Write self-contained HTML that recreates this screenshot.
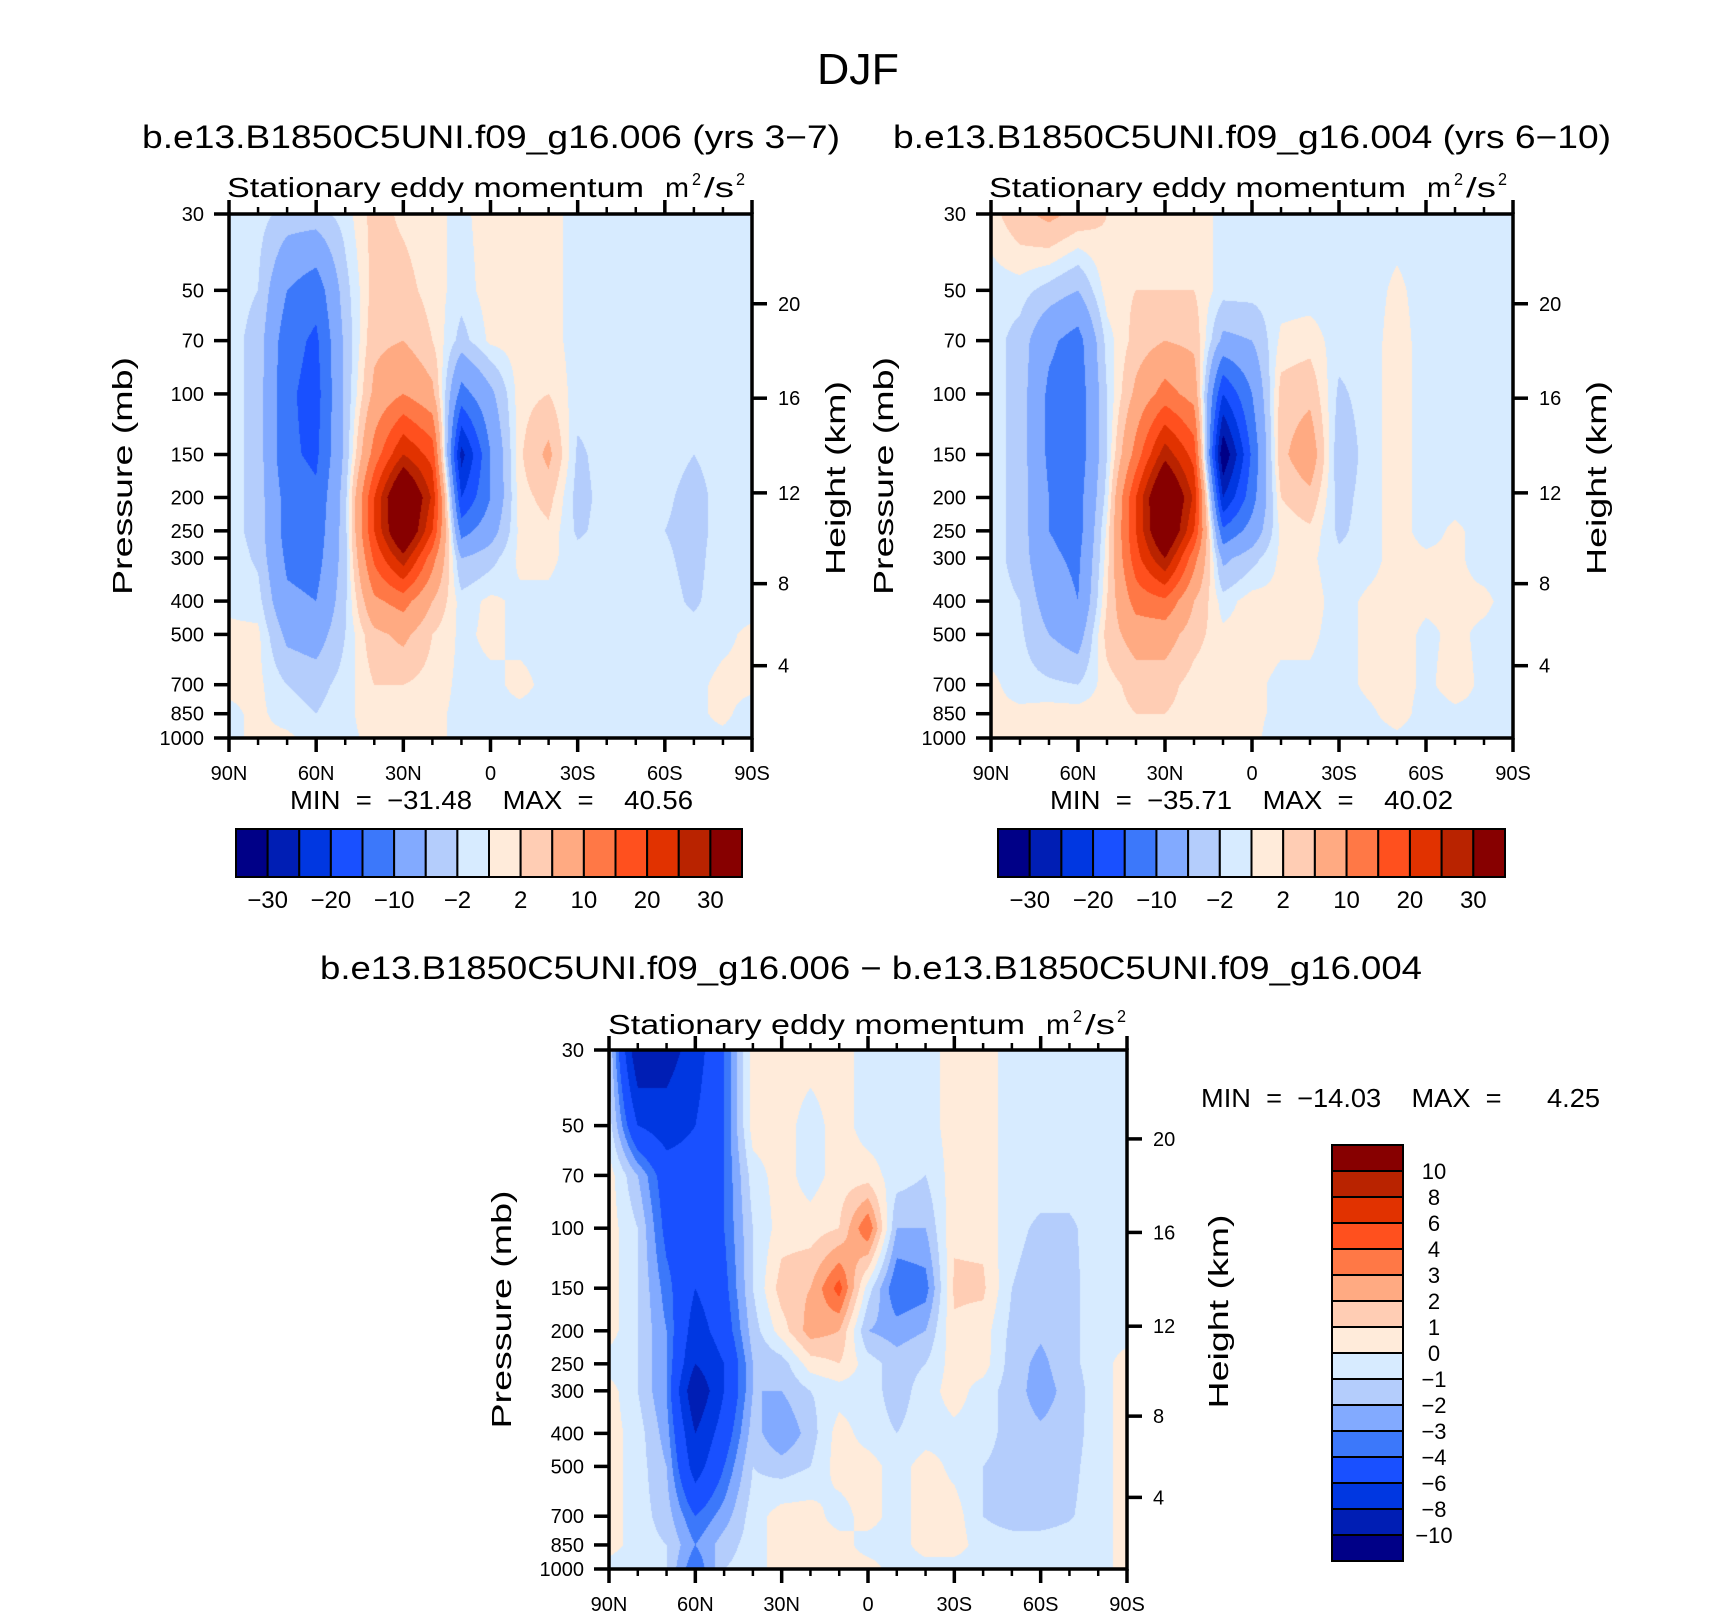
<!DOCTYPE html>
<html><head><meta charset="utf-8">
<style>
html,body{margin:0;padding:0;background:#fff;}
#wrap{position:relative;width:1710px;height:1617px;overflow:hidden;background:#fff;}
canvas{position:absolute;}
svg{position:absolute;left:0;top:0;}
text{font-family:"Liberation Sans",sans-serif;fill:#000;white-space:pre;}
</style></head>
<body>
<div id="wrap">
<canvas id="c1"></canvas>
<canvas id="c2"></canvas>
<canvas id="c3"></canvas>
<svg id="svg" width="1710" height="1617"></svg>
</div>
<script>
// ---- data ----
const lats = [90,80,70,60,50,40,30,20,10,0,-10,-20,-30,-40,-50,-60,-70,-80,-90];
const plevs = [30,50,70,100,150,200,250,300,400,500,700,850,1000];
const levelsFull = [-30,-25,-20,-15,-10,-5,-2,0,2,5,10,15,20,25,30];
const levelsDiff = [-10,-8,-6,-4,-3,-2,-1,0,1,2,3,4,6,8,10];
const labelsFull = ["−30","−20","−10","−2","2","10","20","30"];
const labelsDiff = ["10","8","6","4","3","2","1","0","−1","−2","−3","−4","−6","−8","−10"];
const pTicks = [30,50,70,100,150,200,250,300,400,500,700,850,1000];
const kmTicks = [4,8,12,16,20];
const kmPressure = [616.4,356.0,193.9,102.9,54.7];
const latTicks = [90,60,30,0,-30,-60,-90];
const latTickLabels = ["90N","60N","30N","0","30S","60S","90S"];
const palette = ["#000087","#001eb4","#0037e1","#1950ff","#3c78fa","#82aaff","#b4cdfc","#d7ebff","#ffebda","#ffcdb4","#ffaa82","#ff7846","#ff501e","#e13200","#b92300","#870000"];
// each inner array: one latitude column, values at plevs (30..1000 hPa)
const field006 = [
[-1,-1,-1,-1,-1,-1,-1,-0.5,-0.5,0.5,0.5,-0.5,-0.5],
[-1,-2,-3,-3,-3,-3,-3,-2.5,-1,0.5,0.5,0.5,0.5],
[-3,-10,-13,-14,-14,-12,-12,-11,-9,-6,-2,-1,0.5],
[-3,-13,-16,-17,-16,-14,-13,-12,-10,-7,-3,-2,-1],
[-1,-3,-4,-4,-4,-3,-3,-3,-2.5,-2,-1,-0.5,-0.5],
[3,3,4,6,12,20,20,16,9,4,2,1,0.5],
[1.5,3,5,10,25,42,40,28,12,6,2,1.5,1],
[0.5,1,2,6,18,24,20,12,5,2,1,0.5,0.5],
[-0.5,-1,-3,-12,-27,-20,-12,-5,-1,-0.5,-0.5,-0.5,-0.5],
[1,1,0.5,-6,-10,-10,-7,-3,0.5,0.5,-0.5,-0.5,-0.5],
[1,1,1,1,1.5,1,0.5,0.5,-0.5,-0.5,0.5,-0.5,-0.5],
[1,1,1,2,6,3,1.5,0.5,-0.5,-0.5,-0.5,-0.5,-0.5],
[-1,-1,-1,-1,-2.5,-3,-2.5,-1,-1,-1,-1,-1,-1],
[-1,-1,-1,-1,-1,-1,-1,-1,-1,-1,-1,-1,-1],
[-1,-1,-1,-1,-1,-1.5,-2,-1.5,-1,-1,-1,-1,-1],
[-1,-1,-1,-1,-1,-1.5,-2,-1.5,-1,-1,-1,-1,-1],
[-1,-1,-1,-1,-2,-3,-3,-3,-2.5,-1,-0.5,-0.5,-0.5],
[-1,-1,-1,-1,-1,-1,-1,-0.5,-0.5,-0.5,0.5,0.5,-0.5],
[-1,-1,-1,-1,-1,-1,-1,-1,-1,0.5,0.5,-1,-1]
];
const field004 = [
[1,-1,-1,-1,-1,-1,-1,-1,-1,-1,0.5,0.5,0.5],
[4,-1,-3,-3,-3,-3,-3,-3,-2,-1.5,-1,0.5,1],
[6,-3,-9,-11,-11,-10,-10,-9,-7,-5,-1.5,1,2],
[4,-5,-12,-13,-13,-12,-12,-11,-10,-7,-2,1,2],
[2,1,-1,-2,-2,-1,0.5,1,2,3,1,1,1],
[2,2,3,6,12,20,20,18,12,7,3,2,1],
[1,2,5,12,28,42,40,30,14,7,3,2,1],
[1,2,4,8,18,24,20,12,5,3,1,1,0.5],
[-0.5,-1,-6,-20,-35,-25,-14,-6,-1,0.5,0.5,0.5,0.5],
[-0.5,-1,-5,-10,-14,-12,-8,-3,1,1,0.5,0.5,0.5],
[-1,-1,0.5,3,4,2,0.5,0.5,0.5,0.5,-0.5,-0.5,-1],
[-1,-1,1,4,8,4,1.5,0.5,1,0.5,-0.5,-1,-1],
[-1,-1,-1,-2.5,-4,-3,-2.5,-1.5,-1,-1,-1,-1,-1],
[-1,-1,-1,-1,-1,-1,-1,-1,0.5,0.5,0.5,-0.5,-1],
[-1,0.5,1,1,1,1,1,1,1,1,1,1,-0.5],
[-1,-1,-1,-1,-1,-1,-1,0.5,0.5,-0.5,-0.5,-1,-1],
[-1,-1,-1,-1,-1,-1,0.5,0.5,0.5,0.5,1,-0.5,-0.5],
[-1,-1,-1,-1,-1,-1,-1,-1,0.5,-0.5,-0.5,-0.5,-0.5],
[-1,-1,-1,-1,-1,-1,-1,-1,-1,-1,-1,-1,-1]
];
const fieldDiff = [
[-1,-0.5,0.5,0.5,0.5,0.5,-0.5,0.5,0.5,0.5,0.5,0.5,-0.5],
[-10,-6,-2,-1,-1,-1,-1,-1,-0.5,-0.5,-0.5,-0.5,-1],
[-9,-7,-5,-4.5,-3.5,-3,-3,-3,-2.5,-2,-1.5,-1,-1],
[-7,-6,-5,-5,-6,-7,-8,-10,-8,-7,-4,-3,-4],
[-4,-4,-4,-4,-4.5,-5,-6,-6,-5,-4,-2.5,-1.5,-1],
[0.5,0.5,-0.5,-1,-1,-1.5,-2,-2,-1.5,-1,-0.5,-0.5,-0.5],
[0.5,0.5,0.5,0.5,1.5,0.5,-1.5,-2,-3,-1.5,0.5,0.5,0.5],
[0.5,-0.5,-0.5,0.5,2,2.5,0.5,-1,-1.5,-1,0.5,0.5,0.5],
[0.5,0.5,0.5,1,4.5,2,1,-0.5,0.5,0.5,-0.5,0.5,0.5],
[-0.5,-0.5,0.5,4,-0.5,-2,-0.5,-0.5,-0.5,0.5,0.5,-0.5,0.5],
[-1,-0.5,-0.5,-2,-4,-2.5,-1.5,-1.5,-1,-0.5,-0.5,-0.5,-0.5],
[-0.5,-0.5,-1,-2,-3.5,-2,-1,-0.5,-0.5,0.5,0.5,0.5,-0.5],
[0.5,0.5,0.5,0.8,1.2,0.8,0.5,0.5,-0.3,-0.3,0.5,0.5,-0.5],
[0.5,0.5,0.5,0.7,1.2,0.5,0.5,-0.5,-0.5,-1,-1,-0.5,-0.5],
[-0.5,-0.5,-0.5,-0.7,-1,-1.3,-1.5,-1.5,-1.5,-1.5,-1.5,-0.5,-0.5],
[-0.5,-0.5,-0.5,-1.2,-1.5,-1.8,-2.3,-2.5,-1.8,-1.5,-1.5,-0.5,-0.5],
[-0.5,-0.5,-0.5,-1.2,-1.3,-1.3,-1.3,-1.6,-1.5,-1.3,-1.1,-0.5,-0.5],
[-0.5,-0.5,-0.5,-0.5,-0.5,-0.5,-0.5,-0.5,-0.5,-0.5,-0.5,-0.5,-0.5],
[-0.5,-0.5,-0.5,-0.5,-0.5,-0.5,0.5,0.5,0.5,0.5,0.5,0.5,0.5]
];

// ---- layout ----
const panels = [
 {id:'c1', x:229, y:214, w:523, h:524, field:field006, levels:levelsFull, name:'006'},
 {id:'c2', x:991, y:214, w:522, h:524, field:field004, levels:levelsFull, name:'004'},
 {id:'c3', x:609, y:1050, w:518, h:519, field:fieldDiff, levels:levelsDiff, name:'diff'}
];
const LPMIN = Math.log(30), LPMAX = Math.log(1000);
function xScale(P, lat){ return P.x + (90-lat)/180*P.w; }
function yScale(P, p){ return P.y + (Math.log(p)-LPMIN)/(LPMAX-LPMIN)*P.h; }
const logP = plevs.map(p=>Math.log(p));
function sample(field, lat, lp){
  let fi = (90-lat)/180*(lats.length-1);
  fi = Math.max(0, Math.min(lats.length-1.0001, fi));
  const i = Math.floor(fi), ti = fi-i;
  let j = 0;
  while (j < logP.length-2 && lp > logP[j+1]) j++;
  let tj = (lp-logP[j])/(logP[j+1]-logP[j]);
  tj = Math.max(0, Math.min(1, tj));
  const a = field[i][j], b = field[i+1][j], c = field[i][j+1], d = field[i+1][j+1];
  return (a*(1-ti)+b*ti)*(1-tj) + (c*(1-ti)+d*ti)*tj;
}
function hexRgb(h){ return [parseInt(h.substr(1,2),16),parseInt(h.substr(3,2),16),parseInt(h.substr(5,2),16)]; }
const palRgb = palette.map(hexRgb);
function colorIndex(levels, v){ let k=0; for (const l of levels){ if (v>=l) k++; } return k; }

panels.forEach(P=>{
  const cv = document.getElementById(P.id);
  cv.width = P.w; cv.height = P.h;
  cv.style.left = P.x+'px'; cv.style.top = P.y+'px';
  const ctx = cv.getContext('2d');
  const img = ctx.createImageData(P.w, P.h);
  for (let py=0; py<P.h; py++){
    const lp = LPMIN + (py+0.5)/P.h*(LPMAX-LPMIN);
    for (let px=0; px<P.w; px++){
      const lat = 90 - (px+0.5)/P.w*180;
      const v = sample(P.field, lat, lp);
      const c = palRgb[colorIndex(P.levels, v)];
      const o = (py*P.w+px)*4;
      img.data[o]=c[0]; img.data[o+1]=c[1]; img.data[o+2]=c[2]; img.data[o+3]=255;
    }
  }
  ctx.putImageData(img,0,0);
});

// ---- SVG overlay ----
const svg = document.getElementById('svg');
const NS = 'http://www.w3.org/2000/svg';
function mk(tag, attrs, parent){
  const e = document.createElementNS(NS, tag);
  for (const k in attrs) e.setAttribute(k, attrs[k]);
  (parent||svg).appendChild(e);
  return e;
}
function txt(s, x, y, size, anchor, len, parent){
  const t = mk('text', {x:x, y:y, 'font-size':size, 'text-anchor':anchor||'middle'}, parent);
  if (len){ t.setAttribute('textLength', len); t.setAttribute('lengthAdjust','spacingAndGlyphs'); }
  t.textContent = s;
  return t;
}

let t;
t = txt('DJF', 858, 84, 44, 'middle', 82);



function units(x0, baseline, size, parent){
  const g = mk('g', {}, parent);
  txt('m', x0, baseline, size, 'start', 24, g);
  txt('2', x0+27, baseline-12, size*0.62, 'start', 9, g);
  txt('/s', x0+39, baseline, size, 'start', 30, g);
  txt('2', x0+71, baseline-12, size*0.62, 'start', 9, g);
  return g;
}

function drawPanel(P, opts){
  const g = mk('g', {});
  
  
  const fr = mk('rect', {x:P.x, y:P.y, width:P.w, height:P.h, fill:'none', stroke:'#000', 'stroke-width':3.5}, g);
  
  
  for (let lat=90; lat>=-90; lat-=10){
    const x = xScale(P, lat);
    const major = (lat%30===0);
    const L = major ? 14 : 7;
    const w = major ? 3.5 : 2.5;
    mk('line', {x1:x, y1:P.y, x2:x, y2:P.y-L, stroke:'#000', 'stroke-width':w}, g);
    mk('line', {x1:x, y1:P.y+P.h, x2:x, y2:P.y+P.h+L, stroke:'#000', 'stroke-width':w}, g);
  }
  latTicks.forEach((lat,i)=>{
    const lb = txt(latTickLabels[i], xScale(P, lat), P.y+P.h+42, 20, 'middle', null, g);
    
    
  });
  pTicks.forEach(p=>{
    const y = yScale(P, p);
    mk('line', {x1:P.x, y1:y, x2:P.x-15, y2:y, stroke:'#000', 'stroke-width':3.5}, g);
    const lb = txt(String(p), P.x-25, y+7, 20, 'end', null, g);
    
    
  });
  kmTicks.forEach((km,i)=>{
    const y = yScale(P, kmPressure[i]);
    mk('line', {x1:P.x+P.w, y1:y, x2:P.x+P.w+15, y2:y, stroke:'#000', 'stroke-width':3.5}, g);
    const lb = txt(String(km), P.x+P.w+26, y+7, 20, 'start', null, g);
    
    
  });
  const cy = P.y + P.h/2;
  const pt = txt('Pressure (mb)', 0, 0, 28, 'middle', 238, g);
  pt.setAttribute('transform', 'translate('+(opts.pTitleX)+','+cy+') rotate(-90)');
  
  
  const ht = txt('Height (km)', 0, 0, 28, 'middle', 194, g);
  ht.setAttribute('transform', 'translate('+(opts.hTitleX)+','+(cy+2)+') rotate(-90)');
  
  
  const st = txt('Stationary eddy momentum', opts.subX, opts.subY, 28, 'start', 417, g);
  
  
  const u = units(opts.subX+438, opts.subY, 28, g);
  
  
}

drawPanel(panels[0], {pTitleX:132, hTitleX:845, subX:227, subY:197});
drawPanel(panels[1], {pTitleX:893, hTitleX:1606, subX:989, subY:197});
drawPanel(panels[2], {pTitleX:511, hTitleX:1228, subX:608, subY:1034});

t = txt('b.e13.B1850C5UNI.f09_g16.006 (yrs 3−7)', 491, 148, 32, 'middle', 698);


t = txt('b.e13.B1850C5UNI.f09_g16.004 (yrs 6−10)', 1252, 148, 32, 'middle', 718);


t = txt('b.e13.B1850C5UNI.f09_g16.006 − b.e13.B1850C5UNI.f09_g16.004', 871, 979, 32, 'middle', 1102);



const minmax = [
 {s:'MIN  =  −31.48    MAX  =    40.56', x:290, y:809, len:403},
 {s:'MIN  =  −35.71    MAX  =    40.02', x:1050, y:809, len:403},
 {s:'MIN  =  −14.03    MAX  =      4.25', x:1201, y:1107, len:399}
];
minmax.forEach(m=>{
  const e = txt(m.s, m.x, m.y, 26, 'start', m.len);
  
  
});

function hColorbar(x0, y0, w, h, name){
  const g = mk('g', {});
  
  
  const bw = w/palette.length;
  palette.forEach((c,i)=>{
    const r = mk('rect', {x:x0+i*bw, y:y0, width:bw, height:h, fill:c, stroke:'#000', 'stroke-width':2}, g);
    
    
  });
  labelsFull.forEach((s,k)=>{
    const x = x0 + (2*k+1)*bw;
    const lb = txt(s, x, y0+h+31, 24, 'middle', null, g);
    
    
  });
}
hColorbar(236, 829, 506, 48, 'colorbar-006');
hColorbar(998, 829, 507, 48, 'colorbar-004');

(function(){
  const x0 = 1332, y0 = 1145, w = 71, h = 416;
  const g = mk('g', {});
  
  
  const bh = h/palette.length;
  for (let i=0;i<palette.length;i++){
    const c = palette[palette.length-1-i];
    const r = mk('rect', {x:x0, y:y0+i*bh, width:w, height:bh, fill:c, stroke:'#000', 'stroke-width':2}, g);
    
    
  }
  labelsDiff.forEach((s,k)=>{
    const y = y0 + (k+1)*bh;
    const lb = txt(s, 1434, y+8, 22, 'middle', null, g);
    
    
  });
})();
</script>
</body></html>
